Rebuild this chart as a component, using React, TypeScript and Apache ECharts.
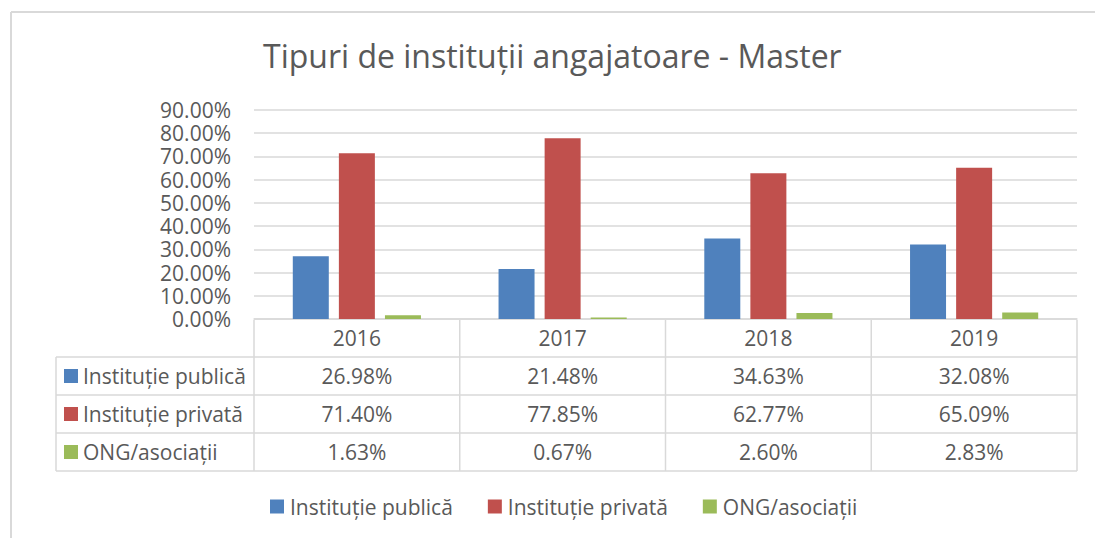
import React, { useEffect, useRef } from "react";
import * as echarts from "echarts";

const years = ["2016", "2017", "2018", "2019"];
const seriesNames = ["Instituție publică", "Instituție privată", "ONG/asociații"];
const publica = [0.2698, 0.2148, 0.3463, 0.3208];
const privata = [0.714, 0.7785, 0.6277, 0.6509];
const ong = [0.0163, 0.0067, 0.026, 0.0283];
const colors = ["#4F81BD", "#C0504D", "#9BBB59"];
const yTicks = { min: 0, max: 0.9, interval: 0.1 };

const FONT = "'Open Sans', sans-serif";
const TEXT = "#595959";
const LINE = "#D9D9D9";

const fmt = (v: number) => (v * 100).toFixed(2) + "%";

export default function App() {
  const ref = useRef<HTMLDivElement>(null);
  useEffect(() => {
    if (!ref.current) return;
    const chart = echarts.init(ref.current, null, { renderer: "svg" });
    const W = 1095;
    const gridLeft = 254;
    const gridRight = 18;
    const plotRight = W - gridRight;
    const tableLeft = 56;
    const colW = (plotRight - gridLeft) / years.length;
    const rowY = [320, 357, 395, 433, 471];
    const allSeries = [publica, privata, ong];

    const graphic: any[] = [];
    // outer frame
    graphic.push({ type: "line", shape: { x1: 11, y1: 12, x2: W, y2: 12 }, style: { stroke: LINE, lineWidth: 2 } });
    graphic.push({ type: "line", shape: { x1: 11, y1: 12, x2: 11, y2: 538 }, style: { stroke: LINE, lineWidth: 2 } });
    // horizontal table lines
    for (let i = 1; i < rowY.length; i++) {
      graphic.push({
        type: "line",
        shape: { x1: tableLeft, y1: rowY[i], x2: plotRight, y2: rowY[i] },
        style: { stroke: LINE, lineWidth: 1.5 },
      });
    }
    graphic.push({
      type: "line",
      shape: { x1: tableLeft, y1: rowY[1], x2: tableLeft, y2: rowY[4] },
      style: { stroke: LINE, lineWidth: 1.5 },
    });
    for (let c = 0; c <= years.length; c++) {
      const x = gridLeft + c * colW;
      graphic.push({
        type: "line",
        shape: { x1: x, y1: rowY[0], x2: x, y2: rowY[4] },
        style: { stroke: LINE, lineWidth: 1.5 },
      });
    }
    // row labels and values
    seriesNames.forEach((name, r) => {
      const cy = (rowY[r + 1] + rowY[r + 2]) / 2;
      graphic.push({
        type: "rect",
        shape: { x: 64, y: cy - 7, width: 14, height: 14 },
        style: { fill: colors[r] },
      });
      graphic.push({
        type: "text",
        x: 83,
        y: cy,
        style: { text: name, fill: TEXT, font: `21px ${FONT}`, verticalAlign: "middle", align: "left" },
      });
      allSeries[r].forEach((v, c) => {
        graphic.push({
          type: "text",
          x: gridLeft + (c + 0.5) * colW,
          y: cy,
          style: { text: fmt(v), fill: TEXT, font: `21px ${FONT}`, verticalAlign: "middle", align: "center" },
        });
      });
    });

    chart.setOption({
      animation: false,
      textStyle: { fontFamily: FONT },
      title: {
        text: "Tipuri de instituții angajatoare - Master",
        left: 258,
        top: 34,
        textStyle: { fontFamily: FONT, fontSize: 32, fontWeight: "normal", color: TEXT },
      },
      legend: {
        bottom: 16,
        left: 265,
        itemWidth: 14,
        itemHeight: 14,
        itemGap: 35,
        icon: "rect",
        data: seriesNames,
        textStyle: { fontFamily: FONT, fontSize: 21, color: TEXT, padding: [0, 0, 0, 1] },
      },
      grid: { left: gridLeft, right: gridRight, top: 110, bottom: 219 },
      xAxis: {
        type: "category",
        data: years,
        axisLine: { show: true, lineStyle: { color: LINE, width: 1.5 } },
        axisTick: { show: false },
        axisLabel: { fontFamily: FONT, fontSize: 21, color: TEXT, margin: 8 },
      },
      yAxis: {
        type: "value",
        min: yTicks.min,
        max: yTicks.max,
        interval: yTicks.interval,
        axisLine: { show: false },
        axisTick: { show: false },
        splitLine: { lineStyle: { color: LINE, width: 1.5 } },
        axisLabel: {
          fontFamily: FONT,
          fontSize: 21,
          lineHeight: 21,
          color: TEXT,
          margin: 23,
          formatter: (v: number) => fmt(v),
        },
      },
      series: seriesNames.map((name, i) => ({
        name,
        type: "bar",
        data: allSeries[i],
        barWidth: 36,
        barGap: "28%",
        itemStyle: { color: colors[i] },
      })),
      graphic,
    });
    return () => chart.dispose();
  }, []);
  return (
    <div
      ref={ref}
      style={{ position: "absolute", left: 0, top: 0, width: 1095, height: 538, background: "#fff" }}
    />
  );
}
